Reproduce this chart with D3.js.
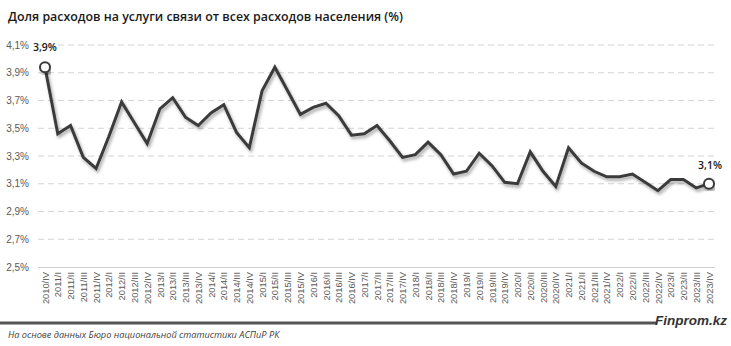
<!DOCTYPE html>
<html><head><meta charset="utf-8">
<script src="https://cdn.jsdelivr.net/npm/d3@7"></script>
<style>body{margin:0;background:#fff}svg{display:block}</style>
</head><body>
<script>
const years = [2010,2011,2011,2011,2011,2012,2012,2012,2012,2013,2013,2013,2013,2014,2014,2014,2014,2015,2015,2015,2015,2016,2016,2016,2016,2017,2017,2017,2017,2018,2018,2018,2018,2019,2019,2019,2019,2020,2020,2020,2020,2021,2021,2021,2021,2022,2022,2022,2022,2023,2023,2023,2023];
const quarters = ["IV","I","II","III","IV","I","II","III","IV","I","II","III","IV","I","II","III","IV","I","II","III","IV","I","II","III","IV","I","II","III","IV","I","II","III","IV","I","II","III","IV","I","II","III","IV","I","II","III","IV","I","II","III","IV","I","II","III","IV"];
const categories = years.map((y,i)=>y+"/"+quarters[i]);
const values = [3.94,3.46,3.52,3.29,3.21,3.44,3.69,3.54,3.39,3.64,3.72,3.58,3.52,3.61,3.67,3.47,3.36,3.77,3.94,3.77,3.60,3.65,3.68,3.59,3.45,3.46,3.52,3.41,3.29,3.31,3.40,3.31,3.17,3.19,3.32,3.23,3.11,3.10,3.33,3.19,3.08,3.36,3.25,3.19,3.15,3.15,3.17,3.11,3.05,3.13,3.13,3.07,3.10];
const yTicks = [2.5,2.7,2.9,3.1,3.3,3.5,3.7,3.9,4.1];
const endLabels = ["3,9%","3,1%"];
const title = "Доля расходов на услуги связи от всех расходов населения (%)";
const source = "На основе данных Бюро национальной статистики АСПиР РК";
const brand = "Finprom.kz";

const W=731,H=346;
const svg=d3.select("body").append("svg").attr("width",W).attr("height",H);
const defs=svg.append("defs");
const f=defs.append("filter").attr("id","sh").attr("x","-10%").attr("y","-10%").attr("width","120%").attr("height","130%");
f.append("feDropShadow").attr("dx",1.5).attr("dy",2.5).attr("stdDeviation",1.8).attr("flood-color","#000").attr("flood-opacity",0.35);

const x=d3.scalePoint().domain(categories).range([45,709]);
const y=d3.scaleLinear().domain([2.5,4.1]).range([267,45]);

svg.append("text").attr("x",8).attr("y",21).text(title)
  .attr("font-family","Open Sans, sans-serif").attr("font-weight",600).attr("font-size",12.4).attr("fill","#1a1a1a");

// gridlines
const grid=svg.append("g");
grid.selectAll("line").data(yTicks.filter(d=>d>2.5)).join("line")
  .attr("x1",38).attr("x2",715).attr("y1",d=>y(d)).attr("y2",d=>y(d))
  .attr("stroke","#d4d4d4").attr("stroke-width",1).attr("stroke-dasharray","6,4");

// y axis labels
const yAxis=d3.axisLeft(y).tickValues(yTicks).tickSize(0).tickPadding(0)
  .tickFormat(d=>d3.format(".1f")(d).replace(".",",")+"%");
const ya=svg.append("g").attr("transform","translate(29,0)").call(yAxis);
ya.select(".domain").remove();
ya.selectAll("text").attr("font-family","Liberation Sans, Arial, sans-serif").attr("font-size",10).attr("fill","#595959");

// x axis
const xAxis=d3.axisBottom(x).tickSize(0).tickPadding(0);
const xa=svg.append("g").attr("transform","translate(0,267)").call(xAxis);
xa.select(".domain").attr("d","M38,0.5H715").attr("stroke","#d0d0d0");
xa.selectAll("text").attr("transform","rotate(-90)").attr("text-anchor","end")
  .attr("x",-5).attr("y",0).attr("dy","0.33em")
  .attr("font-family","Liberation Sans, Arial, sans-serif").attr("font-size",9.3).attr("fill","#595959");

// line
const line=d3.line().x((d,i)=>x(categories[i])).y(d=>y(d));
svg.append("path").datum(values).attr("d",line).attr("fill","none")
  .attr("stroke","#3b3b3b").attr("stroke-width",3).attr("stroke-linejoin","miter").attr("filter","url(#sh)");

const ends=[0,values.length-1];
svg.selectAll("circle.e").data(ends).join("circle")
  .attr("cx",i=>x(categories[i])).attr("cy",i=>y(values[i])).attr("r",5)
  .attr("fill","#fff").attr("stroke","#3b3b3b").attr("stroke-width",2).attr("filter","url(#sh)");
svg.append("text").attr("x",33).attr("y",51).text(endLabels[0])
  .attr("font-family","Open Sans, sans-serif").attr("font-weight",600).attr("font-size",10.5).attr("fill","#1a1a1a");
svg.append("text").attr("x",722).attr("y",169).attr("text-anchor","end").text(endLabels[1])
  .attr("font-family","Open Sans, sans-serif").attr("font-weight",600).attr("font-size",10.5).attr("fill","#1a1a1a");

// footer
svg.append("line").attr("x1",0).attr("x2",657).attr("y1",323).attr("y2",323).attr("stroke","#555").attr("stroke-width",3);
svg.append("text").attr("x",727).attr("y",325).attr("text-anchor","end").text(brand)
  .attr("font-family","Liberation Sans, Arial, sans-serif").attr("font-style","italic").attr("font-weight","bold").attr("font-size",13.5).attr("fill","#333");
svg.append("text").attr("x",8).attr("y",338).text(source)
  .attr("font-family","Open Sans, sans-serif").attr("font-style","italic").attr("font-size",9.2).attr("fill","#404040");
</script>
</body></html>
